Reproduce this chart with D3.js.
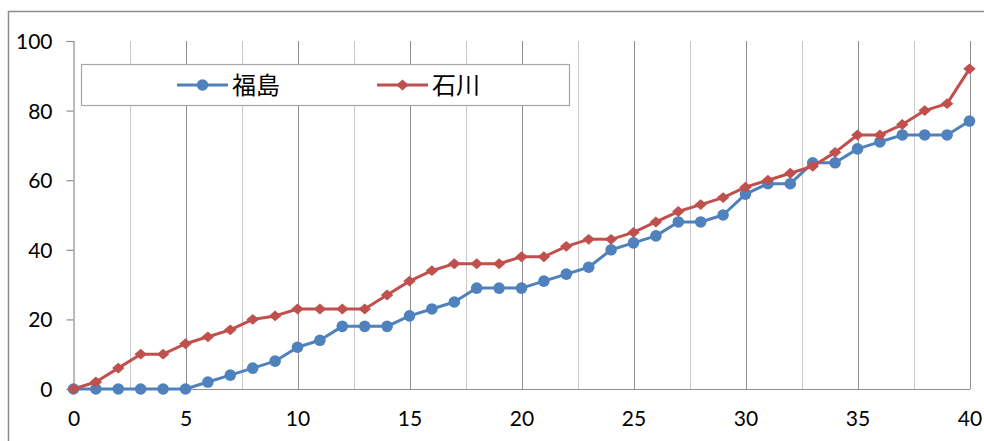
<!DOCTYPE html>
<html>
<head>
<meta charset="utf-8">
<script src="https://cdn.jsdelivr.net/npm/d3@7"></script>
<style>
  html, body { margin: 0; padding: 0; background: #fff; }
  svg { display: block; }
</style>
</head>
<body>
<svg id="chart" width="984" height="441"></svg>
<script>
// Cumulative counts per step for the two prefectures
const steps = d3.range(0, 41);
const fukushima = [0,0,0,0,0,0,2,4,6,8,12,14,18,18,18,21,23,25,29,29,29,31,33,35,40,42,44,48,48,50,56,59,59,65,65,69,71,73,73,73,77];
const ishikawa  = [0,2,6,10,10,13,15,17,20,21,23,23,23,23,27,31,34,36,36,36,38,38,41,43,43,45,48,51,53,55,58,60,62,64,68,73,73,76,80,82,92];
const seriesNames = ["福島", "石川"];
const seriesColors = ["#4F81BD", "#C0504D"];
const xTicks = [0, 5, 10, 15, 20, 25, 30, 35, 40];
const yTicks = [0, 20, 40, 60, 80, 100];

const svg = d3.select("#chart");
const font = "Lato, 'Open Sans', sans-serif";

// outer chart frame (extends past the right and bottom edges)
svg.append("rect")
  .attr("x", 8.5).attr("y", 11.5)
  .attr("width", 1000).attr("height", 500)
  .attr("fill", "#fff").attr("stroke", "#8c8c8c").attr("stroke-width", 1.5);

const x = d3.scaleLinear().domain([0, 40]).range([73.5, 969.5]);
const y = d3.scaleLinear().domain([0, 100]).range([389, 41]);

// vertical gridlines: major every 5, minor halfway between
const minor = d3.range(2.5, 40, 5);
svg.append("g").selectAll("line").data(minor).join("line")
  .attr("x1", d => Math.round(x(d)) + 0.5).attr("x2", d => Math.round(x(d)) + 0.5)
  .attr("y1", y(100)).attr("y2", y(0))
  .attr("stroke", "#c8c8c8").attr("stroke-width", 1);
svg.append("g").selectAll("line").data(xTicks.filter(d => d > 0)).join("line")
  .attr("x1", d => Math.round(x(d)) + 0.5).attr("x2", d => Math.round(x(d)) + 0.5)
  .attr("y1", y(100)).attr("y2", y(0))
  .attr("stroke", "#8e8e8e").attr("stroke-width", 1);

// y axis
const yAxis = d3.axisLeft(y).tickValues(yTicks).tickSize(7).tickPadding(14);
const gy = svg.append("g").attr("transform", `translate(${x(0)},0)`).call(yAxis);
gy.select(".domain").attr("stroke", "#8e8e8e").attr("stroke-width", 1.2);
gy.selectAll(".tick line").attr("stroke", "#8e8e8e").attr("stroke-width", 1.2);
gy.selectAll(".tick text").attr("font-family", font).attr("font-size", 21)
  .attr("fill", "#000").attr("dy", "0.36em");

// x axis
const xAxis = d3.axisBottom(x).tickValues(xTicks).tickSize(0).tickPadding(22);
const gx = svg.append("g").attr("transform", `translate(0,${y(0)})`).call(xAxis);
gx.select(".domain").attr("stroke", "#8e8e8e").attr("stroke-width", 1.2);
gx.selectAll(".tick text").attr("font-family", font).attr("font-size", 21)
  .attr("fill", "#000");

// lines
const line = d3.line().x((d, i) => x(steps[i])).y(d => y(d));
const allSeries = [fukushima, ishikawa];

allSeries.forEach((vals, si) => {
  svg.append("path").datum(vals)
    .attr("d", line)
    .attr("fill", "none")
    .attr("stroke", seriesColors[si])
    .attr("stroke-width", 3)
    .attr("stroke-linejoin", "round");
  const g = svg.append("g");
  if (si === 0) {
    g.selectAll("circle").data(vals).join("circle")
      .attr("cx", (d, i) => x(steps[i])).attr("cy", d => y(d))
      .attr("r", 5.8).attr("fill", seriesColors[si]);
  } else {
    g.selectAll("path").data(vals).join("path")
      .attr("d", d3.symbol(d3.symbolDiamond2, 75))
      .attr("transform", (d, i) => `translate(${x(steps[i])},${y(d)}) scale(1.15,1)`)
      .attr("fill", seriesColors[si]);
  }
});

// legend
const legend = svg.append("g");
legend.append("rect")
  .attr("x", 81.5).attr("y", 64.5).attr("width", 488).attr("height", 41)
  .attr("fill", "#fff").attr("stroke", "#a6a6a6").attr("stroke-width", 1.2);
const legendX = [177, 377];
seriesNames.forEach((name, i) => {
  const lx = legendX[i];
  legend.append("line")
    .attr("x1", lx).attr("x2", lx + 51).attr("y1", 85).attr("y2", 85)
    .attr("stroke", seriesColors[i]).attr("stroke-width", 3);
  if (i === 0) {
    legend.append("circle").attr("cx", lx + 25.5).attr("cy", 85).attr("r", 5.8)
      .attr("fill", seriesColors[i]);
  } else {
    legend.append("path")
      .attr("d", d3.symbol(d3.symbolDiamond2, 75))
      .attr("transform", `translate(${lx + 25.5},85) scale(1.15,1)`)
      .attr("fill", seriesColors[i]);
  }
  legend.append("text")
    .attr("x", lx + 55).attr("y", 85).attr("dy", "0.36em")
    .attr("font-family", "'Noto Sans CJK JP', sans-serif").attr("font-size", 24)
    .attr("fill", "#000").text(name);
});
</script>
</body>
</html>
